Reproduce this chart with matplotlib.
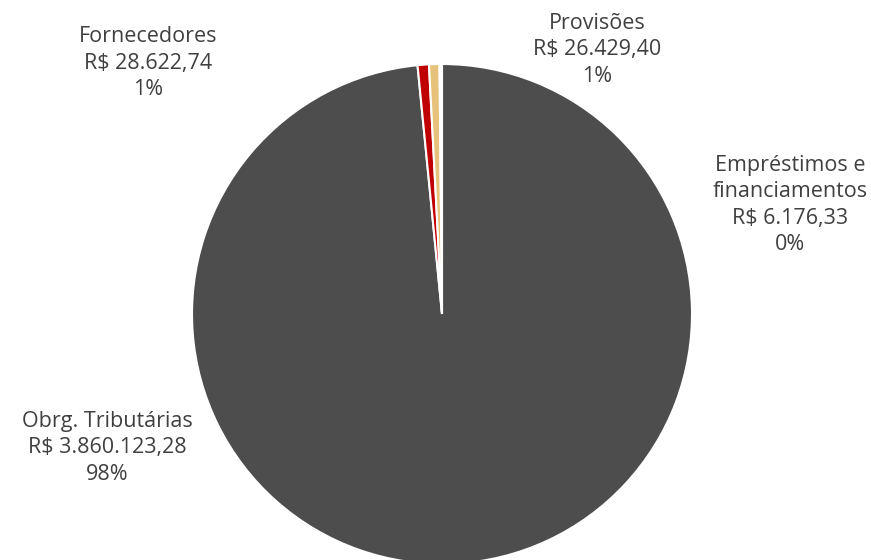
import matplotlib.pyplot as plt

# Data
categories = ["Obrg. Tributárias", "Fornecedores", "Provisões", "Empréstimos e\nfinanciamentos"]
values = [3860123.28, 28622.74, 26429.40, 6176.33]
value_labels = ["R$ 3.860.123,28", "R$ 28.622,74", "R$ 26.429,40", "R$ 6.176,33"]
colors = ["#4d4d4d", "#c00000", "#e6c27a", "#ffffff"]

# label positions in pixels (center of text block)
label_px = [(107, 448), (148, 63), (597, 50), (790, 205)]

plt.rcParams['font.family'] = ['Open Sans', 'DejaVu Sans']

W, H = 871, 560
cx, cy, r = 442, 314, 250

fig = plt.figure(figsize=(W / 100, H / 100), dpi=100)
ax = fig.add_axes([0, 0, 1, 1])

ax.pie(values, colors=colors, startangle=90, counterclock=False, radius=1,
       wedgeprops=dict(edgecolor="white", linewidth=1.5))

ax.set_xlim(-cx / r, (W - cx) / r)
ax.set_ylim(-(H - cy) / r, cy / r)
ax.set_aspect("equal")
ax.axis("off")

total = sum(values)
for cat, v, vl, (px, py) in zip(categories, values, value_labels, label_px):
    pct = round(v / total * 100)
    ax.text((px - cx) / r, (cy - py) / r, "{}\n{}\n{}%".format(cat, vl, pct),
            ha="center", va="center", fontsize=15.5, color="#404040", linespacing=1.35)

fig.savefig("out.png", dpi=100)
